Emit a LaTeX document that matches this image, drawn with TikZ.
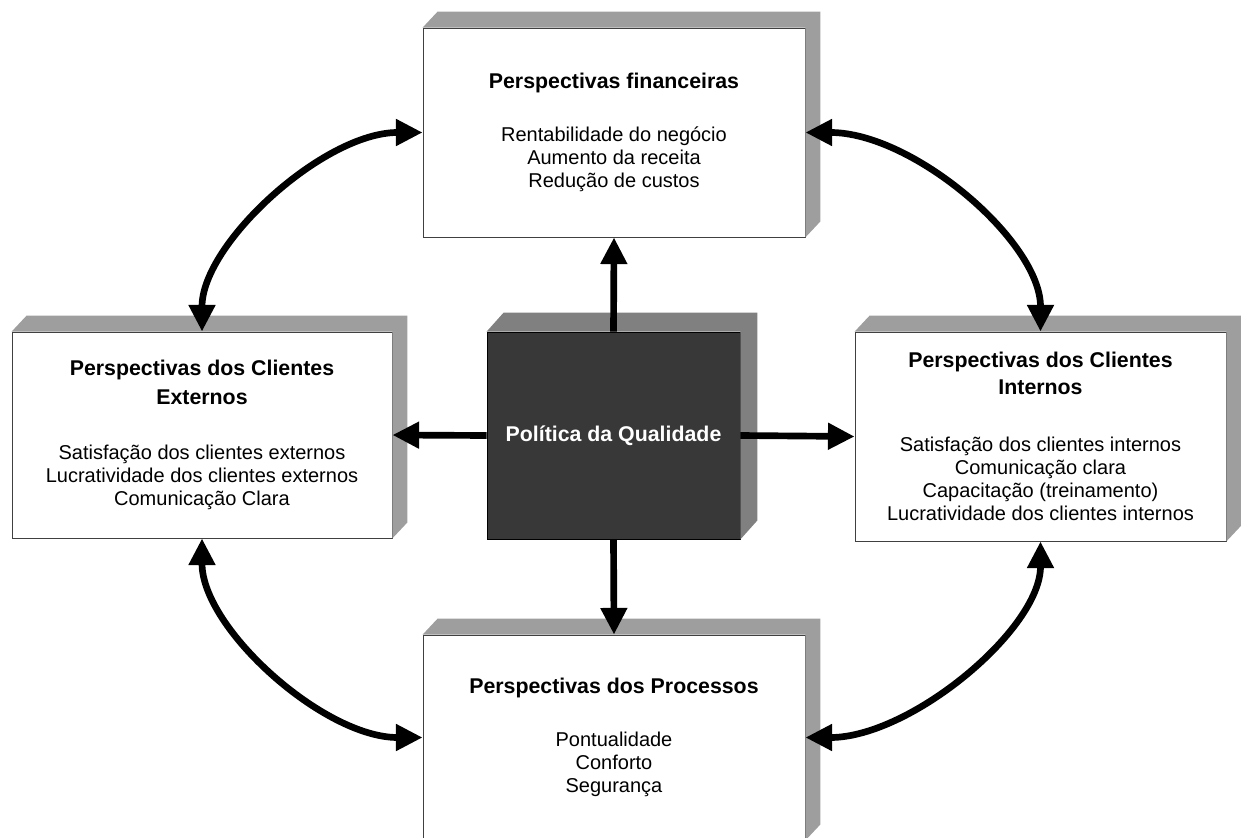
\documentclass[tikz,border=0pt]{standalone}
\usepackage{fontspec}
\setmainfont{Liberation Sans}
\usetikzlibrary{arrows.meta}
\begin{document}
\begin{tikzpicture}[x=0.75pt,y=-0.75pt,
  face/.style={draw=black!75, line width=0.6pt, fill=white, inner sep=0pt,
    align=center, font=\fontsize{15}{17.25}\selectfont},
  core/.style={draw=black, line width=0.6pt, fill=black!78, inner sep=0pt,
    align=center, text=white, font=\fontsize{16}{19}\selectfont\bfseries},
  side/.style={fill=black!38},
  coreside/.style={fill=black!50},
  ttl/.style={},
  link/.style={line width=5pt, -{Triangle[length=20pt,width=19pt]}},
  dlink/.style={line width=5pt, {Triangle[length=20pt,width=19pt]}-{Triangle[length=20pt,width=19pt]}}
]
\newcommand{\hd}[1]{{\fontsize{16}{19}\selectfont\bfseries #1}}
\useasboundingbox (0,0) rectangle (1241,838);
\clip (0,0) rectangle (1241,838);

% front faces of the five blocks
\node[face, minimum width=286.5pt, minimum height=156.75pt] (fin) at (614,132.5)
  {\hd{Perspectivas financeiras}\\[23pt]
   Rentabilidade do negócio\\ Aumento da receita\\ Redução de custos};
\node[face, minimum width=285pt, minimum height=154.5pt] (ext) at (202,435)
  {\hd{Perspectivas dos Clientes}\\[4pt] \hd{Externos}\\[24pt]
   Satisfação dos clientes externos\\ Lucratividade dos clientes externos\\ Comunicação Clara};
\node[face, minimum width=278.25pt, minimum height=156.75pt] (int) at (1040.5,436.5)
  {\hd{Perspectivas dos Clientes}\\[3pt] \hd{Internos}\\[26pt]
   Satisfação dos clientes internos\\ Comunicação clara\\ Capacitação (treinamento)\\ Lucratividade dos clientes internos};
\node[face, minimum width=286.5pt, minimum height=153.75pt] (proc) at (614,737.5)
  {\hd{Perspectivas dos Processos}\\[23pt]
   Pontualidade\\ Conforto\\ Segurança};
\node[core, minimum width=189.75pt, minimum height=155.25pt] (pol) at (613.5,435.5)
  {Política da Qualidade};

% extruded top and right faces
\foreach \n in {fin,ext,int,proc} {
  \fill[side] (\n.north west) -- ([shift={(15,-16)}]\n.north west)
    -- ([shift={(15,-16)}]\n.north east) -- ([shift={(15,-16)}]\n.south east)
    -- (\n.south east) -- (\n.north east) -- cycle;
}
\fill[coreside] (pol.north west) -- ([shift={(17,-19)}]pol.north west)
  -- ([shift={(17,-19)}]pol.north east) -- ([shift={(17,-19)}]pol.south east)
  -- (pol.south east) -- (pol.north east) -- cycle;

% arrows from the quality policy
\draw[link] (pol.north) -- (fin.south);
\draw[link] (pol.west) -- (ext.east);
\draw[link] (pol.east) -- (int.west);
\draw[link] (pol.south) -- (proc.north);

% curved links between the perspectives
\draw[dlink] (ext.north) .. controls +(0,-88) and +(-99,0) .. (fin.west);
\draw[dlink] (fin.east) .. controls +(108,0) and +(0,-90) .. (int.north);
\draw[dlink] (ext.south) .. controls +(0,90) and +(-99,0) .. (proc.west);
\draw[dlink] (proc.east) .. controls +(105,0) and +(0,88) .. (int.south);
\end{tikzpicture}
\end{document}
